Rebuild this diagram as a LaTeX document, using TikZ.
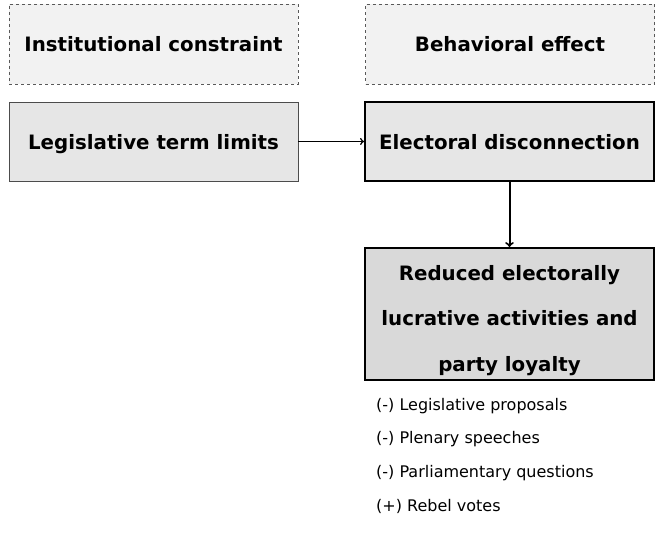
\documentclass[tikz,border=0pt]{standalone}
\usepackage{fontspec}
\setmainfont{DejaVu Sans}
\usepackage{xcolor}
\usetikzlibrary{positioning}
\definecolor{header-gray}{HTML}{F2F2F2}
\definecolor{cause-gray}{HTML}{E6E6E6}
\definecolor{outcome-gray}{HTML}{D9D9D9}
\tikzset{
    header-box/.style = {draw=black!65, fill=header-gray, dashed, line width=0.8pt, rectangle, minimum width=289pt, minimum height=80pt, font=\bfseries\fontsize{19.8}{24}\selectfont},
    cause-box/.style = {draw=black!70, fill=cause-gray, line width=0.9pt, rectangle, minimum width=289pt, minimum height=79pt, text depth=0pt, font=\bfseries\fontsize{19.8}{24}\selectfont},
    effect-box/.style = {cause-box, draw=black, line width=2pt},
    outcome-box/.style = {draw=black, fill=outcome-gray, line width=2pt, rectangle, minimum width=289pt, minimum height=132pt, align=center, font=\bfseries\fontsize{19.8}{45.5}\selectfont},
    item-text/.style = {anchor=base west, inner sep=0pt, font=\fontsize{16}{18}\selectfont},
}

\begin{document}
\begin{tikzpicture}[x=1pt, y=1pt]
\useasboundingbox (0,0) rectangle (656,533);
\node [header-box] (constraint) at (153.5,489) {Institutional constraint};
\node [header-box] (behavior) at (510,489) {Behavioral effect};
\node [cause-box] (termlimits) at (153.5,391.5) {Legislative term limits};
\node [effect-box] (disconnect) at (509.5,391.5) {Electoral disconnection};
\node [outcome-box] (reduced) at (509.5,219) {\rule{0pt}{28pt}Reduced electorally\\lucrative activities and\\party loyalty};
\draw [->, line width=1.5pt] (termlimits) -- (disconnect);
\draw [->, line width=2pt] (disconnect) -- (reduced);
\node [item-text] (proposals) at (376,122.5) {(-) Legislative proposals};
\node [item-text] (speeches) at (376,89) {(-) Plenary speeches};
\node [item-text] (questions) at (376,55.5) {(-) Parliamentary questions};
\node [item-text] (rebel) at (376,22) {(+) Rebel votes};
\end{tikzpicture}
\end{document}
